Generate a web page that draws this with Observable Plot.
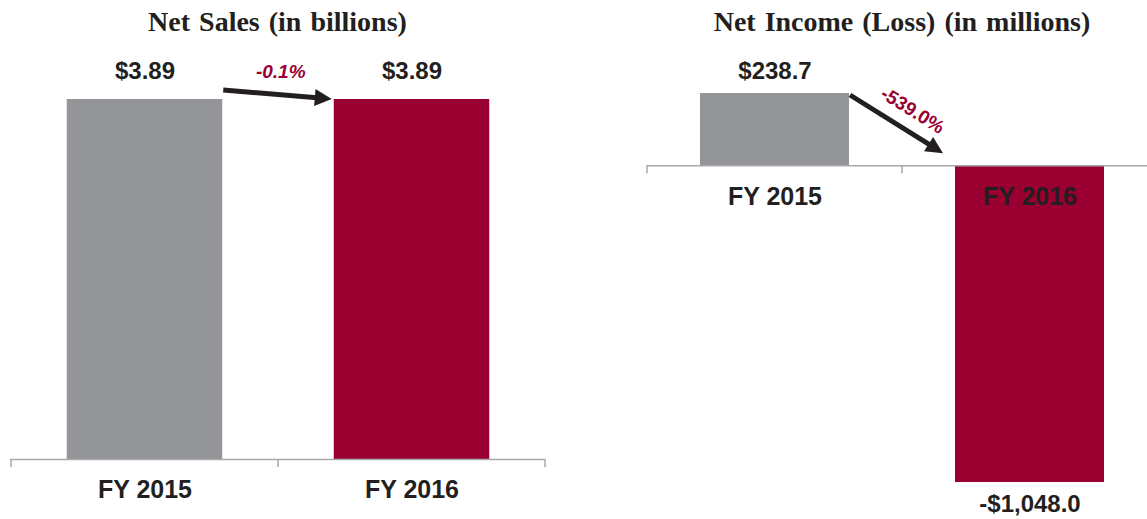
<!DOCTYPE html>
<html><head><meta charset="utf-8">
<script src="https://cdn.jsdelivr.net/npm/d3@7"></script>
<script src="https://cdn.jsdelivr.net/npm/@observablehq/plot@0.6"></script>
<style>
html,body{margin:0;padding:0;background:#fff;}
#wrap{position:relative;width:1147px;height:519px;overflow:hidden;}
.title{position:absolute;top:0;height:44px;line-height:44px;text-align:center;font-family:"Liberation Serif","Times New Roman",serif;font-weight:bold;font-size:28px;word-spacing:2px;color:#231f20;white-space:nowrap;}
.panel{position:absolute;top:44px;}
.panel svg{max-width:none !important;}
</style></head><body><div id="wrap"></div>
<script>
// ---- data ----
const years = ["FY 2015", "FY 2016"];
const salesValues = [3.89, 3.89];
const salesLabels = ["$3.89", "$3.89"];
const salesChange = "-0.1%";
const incomeValues = [238.7, -1048.0];
const incomeLabels = ["$238.7", "-$1,048.0"];
const incomeChange = "-539.0%";
const titles = ["Net Sales (in billions)", "Net Income (Loss) (in millions)"];
const barColors = ["#939598", "#990031"];

// ---- styles ----
const SANS = "'Liberation Sans', Arial, Helvetica, sans-serif";
const DARK = "#231f20";
const CRIMSON = "#990031";
const AXIS = "#a7a9ac";

const salesData = years.map((y, i) => ({year: y, value: salesValues[i], label: salesLabels[i]}));
const incomeData = years.map((y, i) => ({year: y, value: incomeValues[i], label: incomeLabels[i]}));

const wrap = document.getElementById("wrap");

function addTitle(text, centerX) {
  const d = document.createElement("div");
  d.className = "title";
  d.style.left = (centerX - 300) + "px";
  d.style.width = "600px";
  d.textContent = text;
  wrap.appendChild(d);
}

function drawArrow(svg, x1, y1, x2, y2) {
  const dx = x2 - x1, dy = y2 - y1, len = Math.hypot(dx, dy);
  const ux = dx / len, uy = dy / len, px = -uy, py = ux;
  const headLen = 17, headHalf = 8.5;
  const bx = x2 - ux * headLen, by = y2 - uy * headLen;
  const g = d3.select(svg).append("g");
  g.append("line").attr("x1", x1).attr("y1", y1).attr("x2", bx + ux * 2).attr("y2", by + uy * 2)
    .attr("stroke", DARK).attr("stroke-width", 5);
  g.append("path")
    .attr("d", `M${x2},${y2}L${bx + px * headHalf},${by + py * headHalf}L${bx - px * headHalf},${by - py * headHalf}Z`)
    .attr("fill", DARK);
}

function drawTicks(svg, plot, y0) {
  const xs = plot.scale("x");
  const start = xs.apply(years[0]);
  const g = d3.select(svg).append("g");
  for (let i = 0; i <= years.length; i++) {
    const x = start + i * xs.bandwidth;
    g.append("line").attr("x1", x).attr("x2", x).attr("y1", y0).attr("y2", y0 + 8)
      .attr("stroke", AXIS).attr("stroke-width", 1.5);
  }
}

function makePanel(plot, left, W, H) {
  const panel = document.createElement("div");
  panel.className = "panel";
  panel.style.left = left + "px";
  panel.style.width = W + "px";
  panel.style.height = H + "px";
  plot.style.maxWidth = "none";
  panel.appendChild(plot);
  wrap.appendChild(panel);
}

// ---- left panel: Net Sales ----
{
  const W = 560, H = 475, mL = 10, mR = 15;
  const bw = (W - mL - mR) / years.length;
  const inset = 55.75;
  const plot = Plot.plot({
    width: W, height: H,
    marginLeft: mL, marginRight: mR, marginTop: 55, marginBottom: 60,
    x: {domain: years, padding: 0, axis: null},
    y: {domain: [0, d3.max(salesValues)], axis: null},
    color: {domain: years, range: barColors},
    style: {background: "transparent", overflow: "visible"},
    marks: [
      Plot.barY(salesData, {x: "year", y: "value", fill: "year", insetLeft: inset, insetRight: inset}),
      Plot.ruleY([0], {stroke: AXIS, strokeWidth: 1.5}),
      Plot.text(salesData, {x: "year", y: "value", text: "label", dy: -28, fontSize: 24, fontWeight: "bold", fill: DARK, fontFamily: SANS}),
      Plot.text(salesData, {x: "year", y: 0, text: "year", dy: 30, fontSize: 25, fontWeight: "bold", fill: DARK, fontFamily: SANS}),
      Plot.text([salesChange], {x: () => years[0], y: () => salesValues[0], text: d => d, dx: bw / 2 + 2, dy: -28, fontSize: 19, fontWeight: "bold", fontStyle: "italic", fill: CRIMSON, fontFamily: SANS})
    ]
  });
  makePanel(plot, 0, W, H);
  addTitle(titles[0], mL + (W - mL - mR) / 2);
  const xs = plot.scale("x"), ys = plot.scale("y");
  const y0 = ys.apply(0);
  drawTicks(plot, plot, y0);
  const grayRight = xs.apply(years[0]) + xs.bandwidth - inset;
  const redLeft = xs.apply(years[1]) + inset;
  drawArrow(plot, grayRight + 1, ys.apply(salesValues[0]) - 9, redLeft - 2, ys.apply(salesValues[1]));
}

// ---- right panel: Net Income ----
{
  const PL = 600;
  const W = 570, H = 475, mL = 47, mR = 13;
  const bw = (W - mL - mR) / years.length;
  const inset = 53;
  const plot = Plot.plot({
    width: W, height: H,
    marginLeft: mL, marginRight: mR, marginTop: 49, marginBottom: 37,
    x: {domain: years, padding: 0, axis: null},
    y: {domain: d3.extent(incomeValues), axis: null},
    color: {domain: years, range: barColors},
    style: {background: "transparent", overflow: "visible"},
    marks: [
      Plot.barY(incomeData, {x: "year", y: "value", fill: "year", insetLeft: inset, insetRight: inset}),
      Plot.ruleY([0], {stroke: AXIS, strokeWidth: 1.5}),
      Plot.text(incomeData.filter(d => d.value >= 0), {x: "year", y: "value", text: "label", dy: -22, fontSize: 24, fontWeight: "bold", fill: DARK, fontFamily: SANS}),
      Plot.text(incomeData.filter(d => d.value < 0), {x: "year", y: "value", text: "label", dy: 21.5, fontSize: 24, fontWeight: "bold", fill: DARK, fontFamily: SANS}),
      Plot.text(incomeData, {x: "year", y: 0, text: "year", dy: 31, fontSize: 25, fontWeight: "bold", fill: DARK, fontFamily: SANS}),
      Plot.text([incomeChange], {x: () => years[0], y: () => incomeValues[0], text: d => d, dx: bw / 2 + 10, dy: 17, rotate: 32, fontSize: 19, fontWeight: "bold", fill: CRIMSON, fontFamily: SANS})
    ]
  });
  makePanel(plot, PL, W, H);
  addTitle(titles[1], PL + mL + (W - mL - mR) / 2);
  const xs = plot.scale("x"), ys = plot.scale("y");
  const y0 = ys.apply(0);
  drawTicks(plot, plot, y0);
  const grayRight = xs.apply(years[0]) + xs.bandwidth - inset;
  const redLeft = xs.apply(years[1]) + inset;
  drawArrow(plot, grayRight + 1, ys.apply(incomeValues[0]) + 2, redLeft - 12, y0 - 12);
}
</script></body></html>
